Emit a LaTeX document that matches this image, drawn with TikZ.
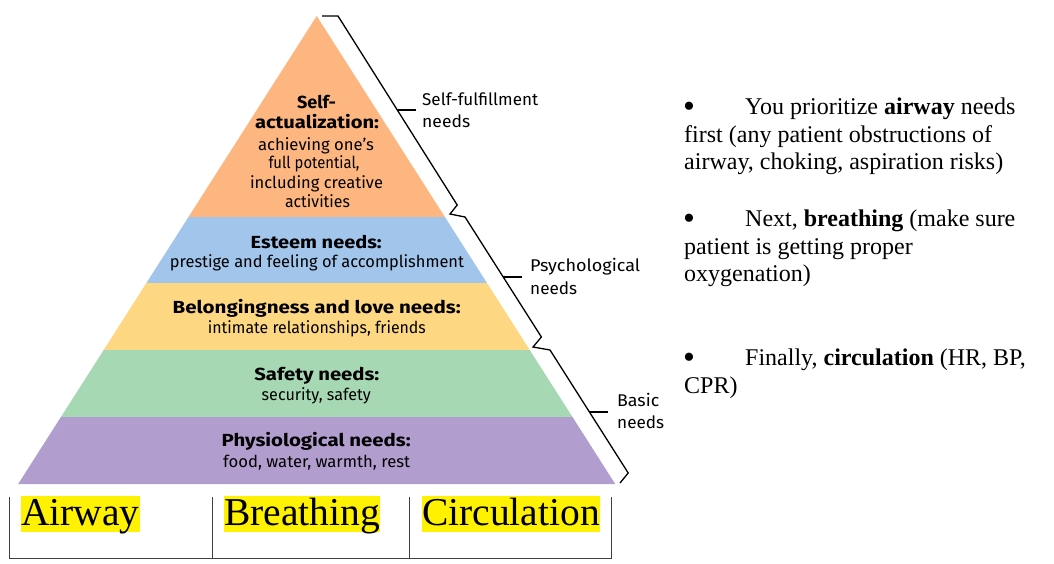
\documentclass[tikz,border=0pt]{standalone}
\usepackage{fontspec}
\setmainfont{Liberation Serif}
\newfontfamily\fut{Fira Sans}
\usepackage{graphicx}
\newcommand\fw[2]{\resizebox{#1pt}{\height}{#2}}
\definecolor{cOrange}{RGB}{253,182,127}
\definecolor{cBlue}{RGB}{161,197,235}
\definecolor{cYellow}{RGB}{254,215,130}
\definecolor{cGreen}{RGB}{166,216,180}
\definecolor{cPurple}{RGB}{178,157,207}
\tikzset{
  lvl/.style={font=\fut\bfseries\fontsize{17.5}{20}\selectfont, anchor=base, inner sep=0},
  sub/.style={font=\fut\fontsize{16.5}{18}\selectfont, anchor=base, inner sep=0},
  lab/.style={font=\fut\fontsize{17}{19}\selectfont, anchor=base west, inner sep=0},
  body/.style={font=\fontsize{24}{28}\selectfont, anchor=base west, inner sep=0},
  bul/.style={font=\fontsize{34}{34}\selectfont, anchor=base west, inner sep=0},
  abc/.style={font=\fontsize{39.5}{44}\selectfont, anchor=base west, inner xsep=0, inner ysep=0, text height=29pt, text depth=7pt, fill=yellow},
  brace/.style={line width=1.3pt, line join=miter},
  tbl/.style={line width=1pt, draw=black!75}
}
\begin{document}
\begin{tikzpicture}[x=1pt,y=-1pt]
\useasboundingbox (0,0) rectangle (1054,564);
\fill[white] (0,0) rectangle (1054,564);
% pyramid layers
\fill[cOrange] (316.7,16) -- (444.9,217) -- (188.5,217) -- cycle;
\fill[cBlue] (188.5,217) -- (444.9,217) -- (487,283) -- (146.4,283) -- cycle;
\fill[cYellow] (146.4,283) -- (487,283) -- (529.7,350) -- (103.7,350) -- cycle;
\fill[cGreen] (103.7,350) -- (529.7,350) -- (572.5,417) -- (60.9,417) -- cycle;
\fill[cPurple] (60.9,417) -- (572.5,417) -- (615.2,484) -- (18.2,484) -- cycle;
% pyramid texts
\node[lvl] (sa1) at (316.5,108.3) {\fw{39}{Self-}};
\node[lvl] (sa2) at (317,129) {\fw{124}{actualization:}};
\node[sub] (sa3) at (316,150.7) {\fw{116}{achieving one’s}};
\node[sub] (sa4) at (314,169) {\fw{91}{full potential,}};
\node[sub] (sa5) at (316.5,188.3) {\fw{133}{including creative}};
\node[sub] (sa6) at (317.5,207.7) {\fw{65}{activities}};
\node[lvl] (es1) at (316.2,248.3) {\fw{131}{Esteem needs:}};
\node[sub] (es2) at (317,267.3) {\fw{294}{prestige and feeling of accomplishment}};
\node[lvl] (bl1) at (316.7,313.3) {\fw{288}{Belongingness and love needs:}};
\node[sub] (bl2) at (316.9,333.3) {\fw{218}{intimate relationships, friends}};
\node[lvl] (sf1) at (316.8,380.7) {\fw{125}{Safety needs:}};
\node[sub] (sf2) at (316.2,400.7) {\fw{109}{security, safety}};
\node[lvl] (ph1) at (316.2,446.7) {\fw{189}{Physiological needs:}};
\node[sub] (ph2) at (316.7,467.3) {\fw{187}{food, water, warmth, rest}};
% brackets
\draw[brace] (322,16) -- (338,16) -- (457.2,205) -- (450,214) -- (465,217) -- (541.4,337) -- (533,347) -- (550,350) -- (628.2,473) -- (620,483);
\draw[brace] (397.3,110) -- (416,110);
\draw[brace] (503.2,277) -- (522,277);
\draw[brace] (589.4,412) -- (608,412);
\node[lab] (l1a) at (422,106) {\fw{116}{Self-fulfillment}};
\node[lab] (l1b) at (422,128) {\fw{48}{needs}};
\node[lab] (l2a) at (530,271.7) {\fw{110}{Psychological}};
\node[lab] (l2b) at (530,294) {\fw{47}{needs}};
\node[lab] (l3a) at (617,406.7) {\fw{42}{Basic}};
\node[lab] (l3b) at (617,428.3) {\fw{47}{needs}};
% table
\draw[tbl] (9.5,497) -- (9.5,558) -- (611.5,558) -- (611.5,497);
\draw[tbl] (212.7,497) -- (212.7,558);
\draw[tbl] (409.5,497) -- (409.5,558);
\node[abc] (aw) at (21,525) {Airway};
\node[abc] (br) at (224,525) {Breathing};
\node[abc] (ci) at (422,525) {Circulation};
% right text
\node[bul] (b1) at (683,118) {•};
\node[body] (t1a) at (745,115) {You prioritize \textbf{airway} needs};
\node[body] (t1b) at (684,142.7) {first (any patient obstructions of};
\node[body] (t1c) at (684,170) {airway, choking, aspiration risks)};
\node[bul] (b2) at (683,229.7) {•};
\node[body] (t2a) at (745,226.7) {Next, \textbf{breathing} (make sure};
\node[body] (t2b) at (684,254) {patient is getting proper};
\node[body] (t2c) at (684,281.7) {oxygenation)};
\node[bul] (b3) at (683,368) {•};
\node[body] (t3a) at (745,365) {Finally, \textbf{circulation} (HR, BP,};
\node[body] (t3b) at (684,393.3) {CPR)};
\end{tikzpicture}
\end{document}
